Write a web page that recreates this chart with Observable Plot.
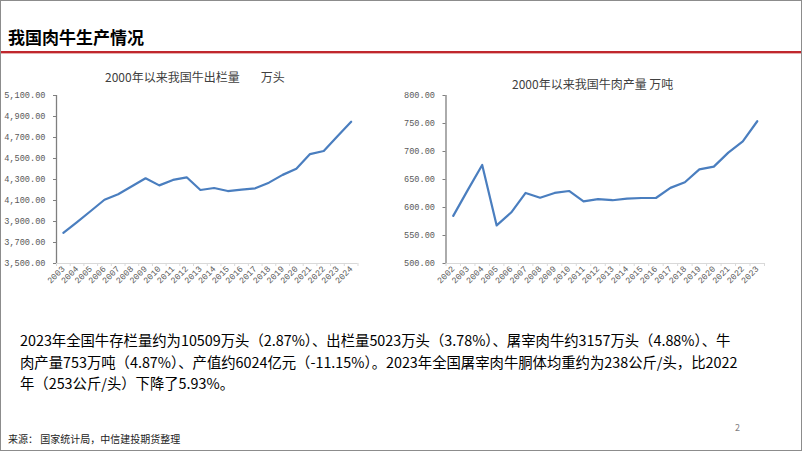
<!DOCTYPE html>
<html><head><meta charset="utf-8">
<script src="https://cdn.jsdelivr.net/npm/d3@7"></script>
<script src="https://cdn.jsdelivr.net/npm/@observablehq/plot@0.6"></script>
<style>
html,body{margin:0;padding:0;background:#fff;}
#slide{position:relative;width:802px;height:451px;overflow:hidden;background:#fff;font-family:"Noto Sans CJK SC","Noto Sans",sans-serif;}
#frame{position:absolute;left:0;top:0;width:800px;height:449px;border:1px solid #8c8c8c;pointer-events:none;}
.abs{position:absolute;white-space:nowrap;}
#title{left:8px;top:26px;font-size:17px;font-weight:bold;color:#000;line-height:22px;}
#rule{left:0;top:51px;width:802px;height:2px;background:#c0272d;border-bottom:1px solid #e8b0b0;}
.ct{font-size:12px;color:#404040;line-height:16px;}
#t1{left:105px;top:69px;}
#t2{left:512px;top:76px;}
#para{left:20px;top:329px;font-size:14.35px;color:#000;line-height:21.5px;}
#src{left:8px;top:432px;font-size:10px;color:#222;line-height:13px;}
#pg{left:735px;top:421px;font-size:9px;color:#7f7f7f;}
svg text{font-family:"Liberation Mono","DejaVu Sans Mono",monospace;}
</style></head>
<body>
<div id="slide">
  <div id="title" class="abs">我国肉牛生产情况</div>
  <div id="rule" class="abs"></div>
  <div id="t1" class="abs ct">2000年以来我国牛出栏量<span style="margin-left:21px">万头</span></div>
  <div id="t2" class="abs ct">2000年以来我国牛肉产量 万吨</div>
  <div id="c1" class="abs" style="left:0;top:88px"></div>
  <div id="c2" class="abs" style="left:390px;top:88px"></div>
  <div id="para" class="abs">2023年全国牛存栏量约为10509万头（2.87%）、出栏量5023万头（3.78%）、屠宰肉牛约3157万头（4.88%）、牛<br>肉产量753万吨（4.87%）、产值约6024亿元（-11.15%）。2023年全国屠宰肉牛胴体均重约为238公斤/头，比2022<br>年（253公斤/头）下降了5.93%。</div>
  <div id="src" class="abs">来源：&nbsp;国家统计局，中信建投期货整理</div>
  <div id="pg" class="abs">2</div>
  <div id="frame"></div>
</div>
<script>
// 牛出栏量 (万头)
const years1 = [2003,2004,2005,2006,2007,2008,2009,2010,2011,2012,2013,2014,2015,2016,2017,2018,2019,2020,2021,2022,2023,2024];
const slaughter = [3792,3895,4000,4107,4160,4235,4312,4244,4296,4321,4200,4219,4190,4203,4216,4270,4344,4402,4542,4571,4713,4850];
const yTicks1 = [3500,3700,3900,4100,4300,4500,4700,4900,5100];

// 牛肉产量 (万吨)
const years2 = [2002,2003,2004,2005,2006,2007,2008,2009,2010,2011,2012,2013,2014,2015,2016,2017,2018,2019,2020,2021,2022,2023];
const beef = [585,631,676,568,591,626,617.5,626,629.5,611,615,613,616,617,617,635,645,668,673,698,718,754];
const yTicks2 = [500,550,600,650,700,750,800];

const lineColor = "#4a7ebf";
const fmt = d3.format(",.2f");

function makeChart(years, values, yTicks, width, marginLeft, marginRight) {
  const data = years.map((y,i)=>({year:y, value:values[i]}));
  const x0 = years[0]-0.5, x1 = years[years.length-1]+0.5;
  const bounds = d3.range(x0, x1+0.01, 1);
  return Plot.plot({
    width, height: 205,
    marginTop: 7, marginBottom: 30, marginLeft, marginRight,
    style: {fontSize: "8.6px", color: "#595959", background: "transparent"},
    x: {type: "linear", domain: [x0, x1], axis: null},
    y: {domain: [yTicks[0], yTicks[yTicks.length-1]], axis: null},
    marks: [
      Plot.ruleY([yTicks[0]], {stroke: "#d9d9d9", strokeWidth: 1}),
      Plot.axisX({ticks: bounds, tickFormat: () => "", tickSize: 3, stroke: "#d9d9d9", label: null}),
      Plot.axisX({ticks: years, tickFormat: d => String(d), tickSize: 0, tickRotate: -45, tickPadding: 4, fill: "#595959", fontSize: "8.6px", label: null}),
      Plot.axisY({ticks: yTicks, tickFormat: fmt, tickSize: 3, stroke: "#7f7f7f", tickPadding: 8, fill: "#595959", label: null}),
      Plot.ruleX([x0], {stroke: "#7f7f7f", strokeWidth: 1.3}),
      Plot.lineY(data, {x: "year", y: "value", stroke: lineColor, strokeWidth: 2.2})
    ]
  });
}

document.getElementById("c1").appendChild(makeChart(years1, slaughter, yTicks1, 380, 56, 22.5));
document.getElementById("c2").appendChild(makeChart(years2, beef, yTicks2, 412, 55.5, 38));
</script>
</body></html>
